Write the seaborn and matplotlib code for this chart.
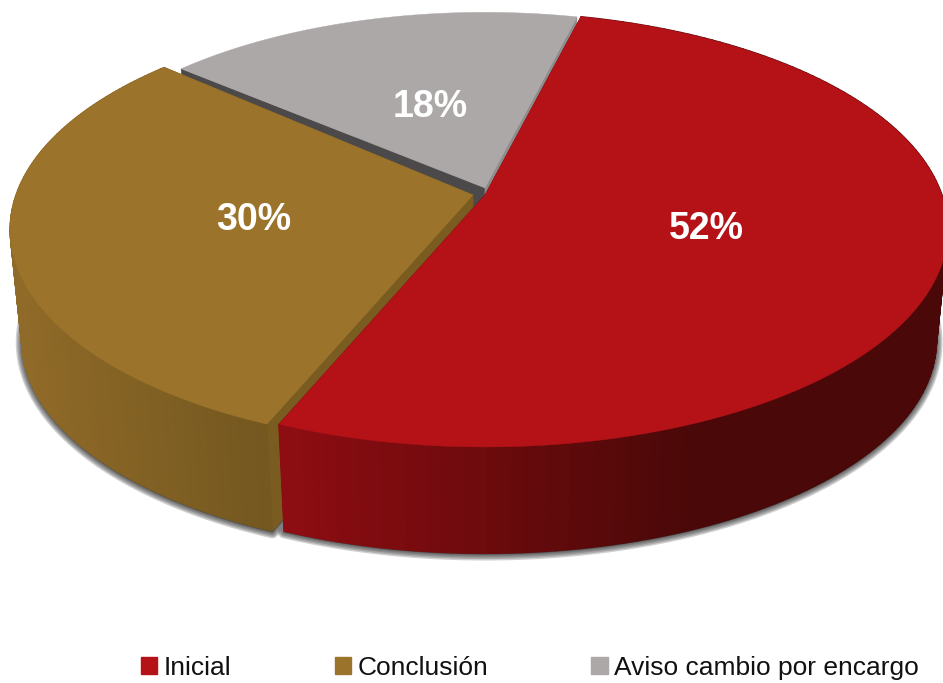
import matplotlib
matplotlib.use("Agg")
import matplotlib.pyplot as plt
from matplotlib.patches import Patch
import numpy as np
import seaborn as sns

categories = ["Inicial", "Conclusión", "Aviso cambio por encargo"]
values = [52, 30, 18]
# arc sizes as measured on the picture, the printed labels are rounded
arc_shares = [52.4, 30.3, 17.3]
top_colors = ["#b51218", "#9b732b", "#aca8a7"]

# look of the fake 3d pie
start_angle = 76
tips = [(485, 195), (473, 195), (485, 188)]
radius = [1, 1, 0.96]
start_face = ["#5d0a0c", "#7a5c20", "#4b494a"]
end_face = ["#5d0a0c", "#7a5c20", "#8f8d8c"]
wall_from = ["#8f0d12", "#906a28"]
wall_to = ["#4a0808", "#745820"]
wall_span = [(280, 700), (20, 262)]
label_r = [0.485, 0.475, 0.47]
label_dy = [0, 2, 2]
a, b, k = 457, 212, 0.1586
sink_t, sink_x, sink_y = 0.025, 485, 4700

sns.set_theme(style="white")
plt.rcParams["font.family"] = ["Liberation Sans", "DejaVu Sans"]
fig = plt.figure(figsize=(9.43, 6.83), dpi=100)
ax = fig.add_axes([0, 0, 1, 1])
ax.set_xlim(0, 943)
ax.set_ylim(683, 0)
ax.axis("off")


def project(tip, ang, r=1):
    u = np.cos(np.radians(ang))
    v = np.sin(np.radians(ang))
    w = 1 + k * v
    return tip[0] + r * a * u / w, tip[1] - r * b * v / w


def sink(x, y):
    return x + sink_t * (sink_x - x), y + sink_t * (sink_y - y)


def hexrgb(c):
    return np.array(matplotlib.colors.to_rgb(c))


shares = np.array(arc_shares) / sum(arc_shares) * 360
edges = start_angle - np.concatenate([[0], np.cumsum(shares)])
arcs = [(edges[0], edges[1]), (edges[1], edges[2]), (edges[2] + 1.5, edges[3])]

# soft shadow under the walls
for i in range(3):
    ang = np.linspace(arcs[i][0], arcs[i][1], 120)
    x, y = project(tips[i], ang, radius[i])
    x = np.append(x, tips[i][0])
    y = np.append(y, tips[i][1])
    sx, sy = sink(x, y)
    for lw in [9, 7, 5, 3, 1.5]:
        ax.fill(sx, sy + 1, color="#3a3a3a", alpha=0.24, lw=lw, joinstyle="round", zorder=1)

# back to front: gray, brown, red
z = 2
for i in [2, 1, 0]:
    tip = tips[i]
    ang = np.linspace(arcs[i][0], arcs[i][1], 150)
    x, y = project(tip, ang, radius[i])
    sx, sy = sink(x, y)
    tsx, tsy = sink(*tip)

    # cut faces
    ax.fill([tip[0], x[0], sx[0], tsx], [tip[1], y[0], sy[0], tsy],
            color=start_face[i], lw=0.4, zorder=z)
    ax.fill([tip[0], x[-1], sx[-1], tsx], [tip[1], y[-1], sy[-1], tsy],
            color=end_face[i], lw=0.4, zorder=z)
    z += 1

    # outer wall, small strips to get the gradient (gray one is hidden at the back)
    if i < 2:
        for j in range(len(ang) - 1):
            f = np.clip((x[j] - wall_span[i][0]) / (wall_span[i][1] - wall_span[i][0]), 0, 1)
            col = hexrgb(wall_from[i]) * (1 - f) + hexrgb(wall_to[i]) * f
            ax.fill([x[j], x[j + 1], sx[j + 1], sx[j]], [y[j], y[j + 1], sy[j + 1], sy[j]],
                    color=col, lw=1, zorder=z)
    z += 1

    # top
    ax.fill(np.append(x, tip[0]), np.append(y, tip[1]), color=top_colors[i], lw=0.3, zorder=z)
    z += 1

for i in range(3):
    mid = (edges[i] + edges[i + 1]) / 2
    lx, ly = project(tips[i], mid, label_r[i])
    ax.text(lx, ly + label_dy[i], f"{values[i]}%", color="white", fontsize=27, fontweight="bold",
            ha="center", va="center", zorder=z)

handles = [Patch(color=c, label=n) for c, n in zip(top_colors, categories)]
ax.legend(handles=handles, ncol=3, frameon=False, fontsize=19, loc="center",
          bbox_to_anchor=(530 / 943, 1 - 668 / 683), borderpad=0, borderaxespad=0,
          handlelength=0.62, handleheight=0.62, handletextpad=0.25, columnspacing=3.9,
          labelcolor="#111111")

fig.savefig("out.png", dpi=100)
